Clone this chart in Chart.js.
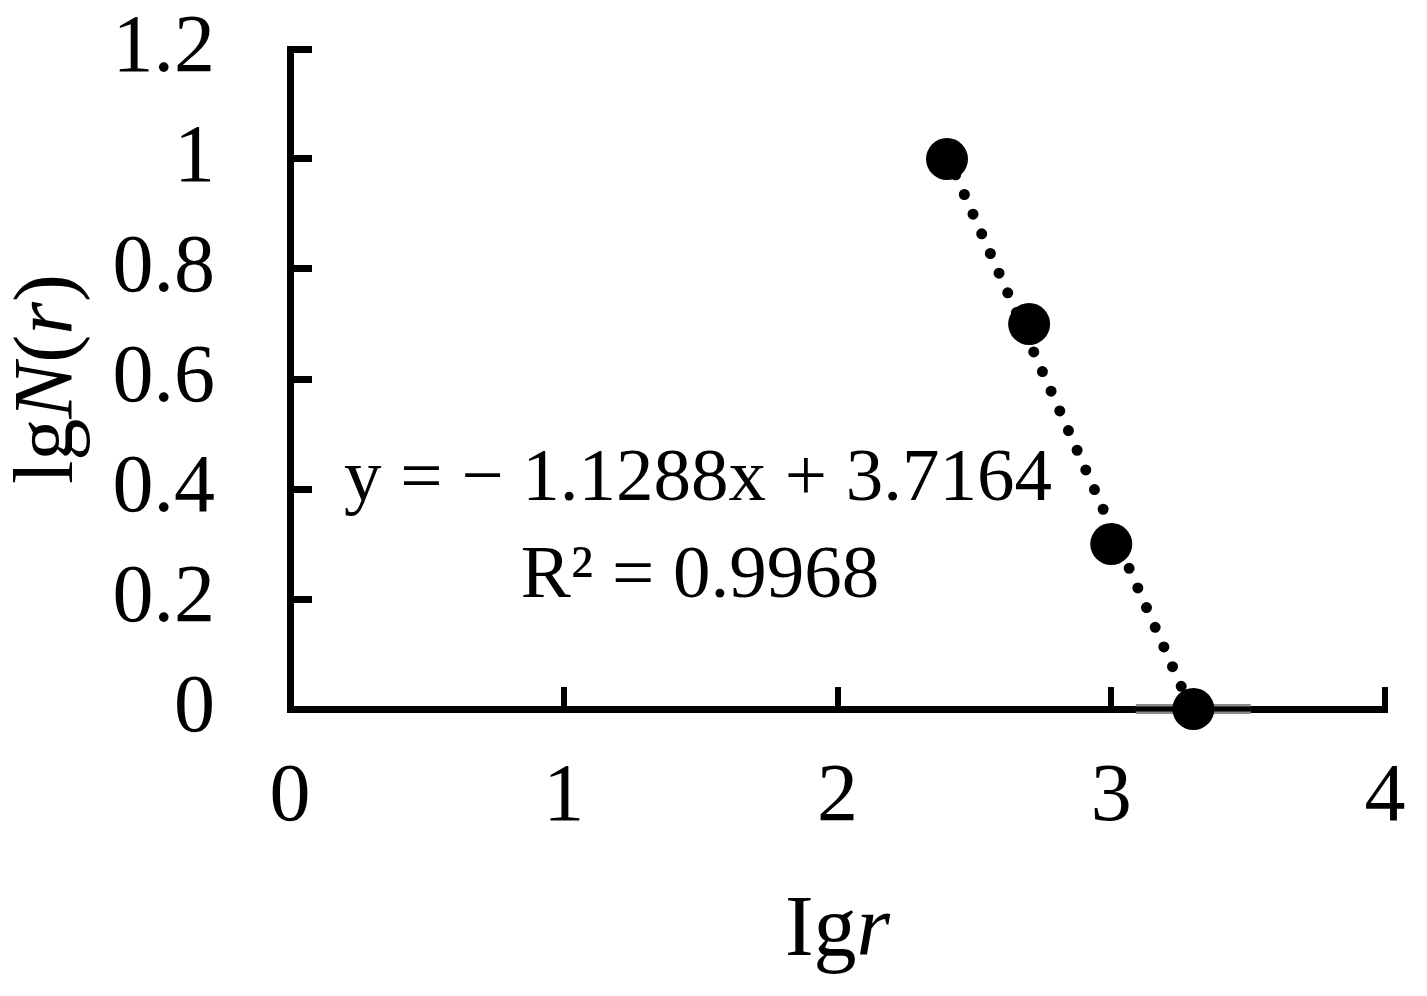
<!DOCTYPE html>
<html lang="en">
<head>
    <meta charset="UTF-8">
    <title>lgN(r) vs lgr</title>
    <script src="https://cdn.jsdelivr.net/npm/chart.js"></script>
    <style>
        html, body { margin: 0; padding: 0; background: #fff; }
        #wrap { width: 1427px; height: 996px; }
    </style>
</head>
<body>
<div id="wrap"><canvas id="fractalChart" width="1427" height="996"></canvas></div>
<script>
    // data
    const lgR = [2.4, 2.7, 3.0, 3.3];
    const lgN = [1.0, 0.7, 0.3, 0.0];
    // dotted trend line ends (y = -1.1288x + 3.7164)
    const trendX = [2.4, 3.3];
    const trendY = [1.007, -0.009];
    // short grey bar lying on the x axis
    const barX = [3.09, 3.51];
    const barY = [0, 0];
    const xTicks = [0, 1, 2, 3, 4];
    const yTicks = [0, 0.2, 0.4, 0.6, 0.8, 1, 1.2];
    const eqLine1 = 'y = \u2212 1.1288x + 3.7164';
    const eqLine2 = 'R\u00B2 = 0.9968';

    const SERIF = '"Liberation Serif", "Times New Roman", serif';

    function pts(xs, ys) {
        return xs.map((x, i) => ({ x: x, y: ys[i] }));
    }

    // draw a run of text pieces with mixed italic, centred on cx
    function drawRuns(ctx, runs, cx, cy, size) {
        let total = 0;
        runs.forEach(r => {
            ctx.font = (r.italic ? 'italic ' : '') + size + 'px ' + SERIF;
            r.w = ctx.measureText(r.t).width;
            total += r.w;
        });
        let x = cx - total / 2;
        runs.forEach(r => {
            ctx.font = (r.italic ? 'italic ' : '') + size + 'px ' + SERIF;
            ctx.fillText(r.t, x, cy);
            x += r.w;
        });
    }

    const textPlugin = {
        id: 'texts',
        afterDraw(chart) {
            const ctx = chart.ctx;
            const area = chart.chartArea;
            ctx.save();
            ctx.fillStyle = '#000';
            ctx.textBaseline = 'alphabetic';
            ctx.textAlign = 'left';

            // x title
            const midX = (area.left + area.right) / 2;
            drawRuns(ctx, [{ t: 'Ig' }, { t: 'r', italic: true }], midX, 955, 86);

            // y title, rotated
            ctx.save();
            ctx.translate(72, (area.top + area.bottom) / 2);
            ctx.rotate(-Math.PI / 2);
            drawRuns(ctx, [{ t: 'lg' }, { t: 'N', italic: true }, { t: '(' }, { t: 'r', italic: true }, { t: ')' }], 0, 0, 84);
            ctx.restore();

            // regression equation
            drawRuns(ctx, [{ t: eqLine1 }], 698, 500, 75);
            drawRuns(ctx, [{ t: eqLine2 }], 700, 597, 75);
            ctx.restore();
        }
    };

    const ctx = document.getElementById('fractalChart').getContext('2d');
    const chart = new Chart(ctx, {
        type: 'scatter',
        data: {
            datasets: [
                {
                    label: 'bar',
                    data: pts(barX, barY),
                    showLine: true,
                    borderColor: '#8a8a8a',
                    borderWidth: 10,
                    pointRadius: 0,
                    order: 3
                },
                {
                    label: 'bar core',
                    data: pts(barX, barY),
                    showLine: true,
                    borderColor: '#000',
                    borderWidth: 5,
                    pointRadius: 0,
                    order: 2
                },
                {
                    label: 'trend',
                    data: pts(trendX, trendY),
                    showLine: true,
                    borderColor: '#000',
                    borderWidth: 11,
                    borderDash: [0, 21.5],
                    borderCapStyle: 'round',
                    pointRadius: 0,
                    order: 1
                },
                {
                    label: 'lgN(r)',
                    data: pts(lgR, lgN),
                    showLine: false,
                    pointRadius: 21,
                    pointBackgroundColor: '#000',
                    pointBorderColor: '#000',
                    pointBorderWidth: 0,
                    order: 0
                }
            ]
        },
        options: {
            responsive: false,
            animation: false,
            clip: false,
            layout: { padding: { left: 0, top: 49, right: 42, bottom: 0 } },
            plugins: {
                legend: { display: false },
                tooltip: { enabled: false }
            },
            scales: {
                x: {
                    type: 'linear',
                    min: 0,
                    max: 4,
                    afterBuildTicks: s => { s.ticks = xTicks.map(v => ({ value: v })); },
                    afterFit: s => {
                        s.height = 996 - 709;
                        s.paddingLeft = 0;
                        s.paddingRight = 0;
                    },
                    border: { display: true, color: '#000', width: 7 },
                    grid: {
                        drawOnChartArea: false,
                        drawTicks: true,
                        tickLength: -22,
                        color: '#000',
                        lineWidth: 6
                    },
                    ticks: {
                        color: '#000',
                        padding: 62,
                        maxRotation: 0,
                        autoSkip: false,
                        font: { family: SERIF, size: 82 }
                    }
                },
                y: {
                    type: 'linear',
                    min: 0,
                    max: 1.2,
                    afterBuildTicks: s => { s.ticks = yTicks.map(v => ({ value: v })); },
                    afterFit: s => {
                        s.width = 290;
                        s.paddingTop = 0;
                        s.paddingBottom = 0;
                    },
                    border: { display: true, color: '#000', width: 7 },
                    grid: {
                        drawOnChartArea: false,
                        drawTicks: true,
                        tickLength: -22,
                        color: '#000',
                        lineWidth: 7
                    },
                    ticks: {
                        color: '#000',
                        padding: 97,
                        autoSkip: false,
                        font: { family: SERIF, size: 82 },
                        callback: v => String(v)
                    }
                }
            }
        },
        plugins: [textPlugin]
    });
</script>
</body>
</html>
